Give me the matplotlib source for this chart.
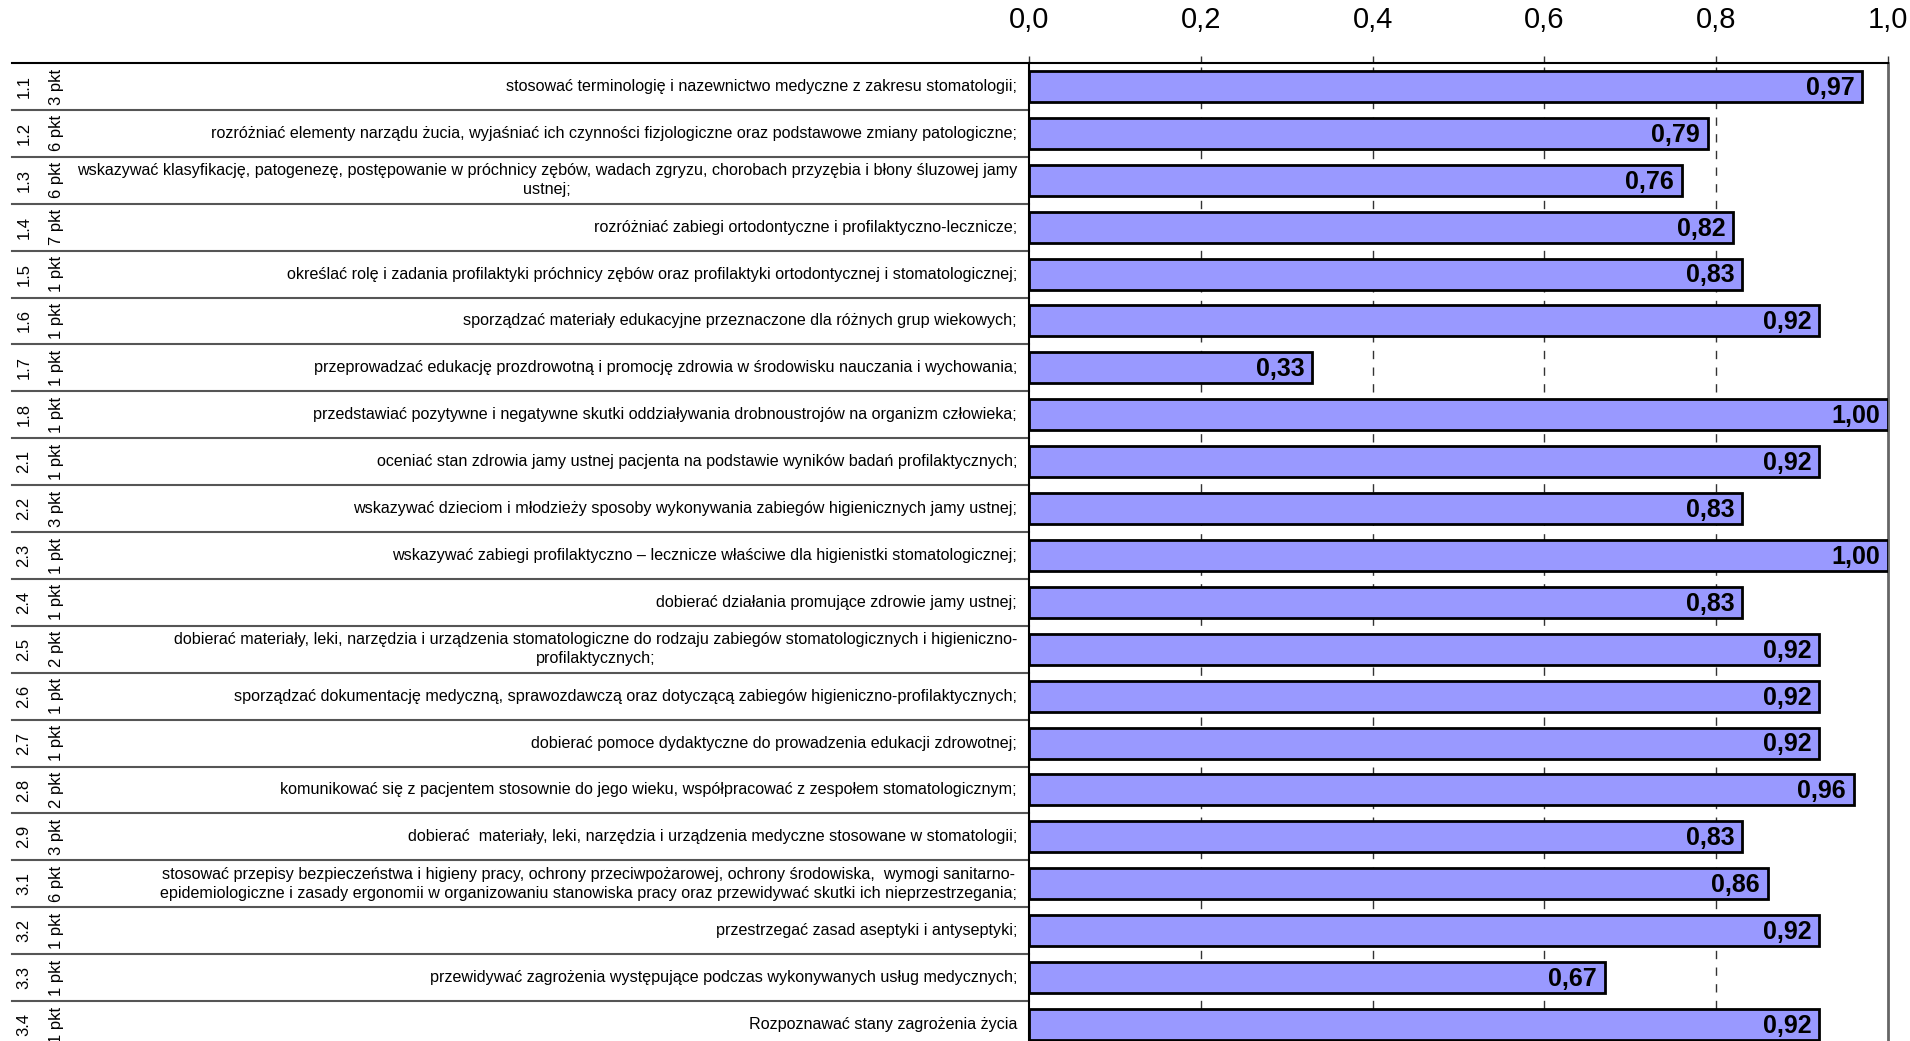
import matplotlib.pyplot as plt
from matplotlib import font_manager
from matplotlib.transforms import blended_transform_factory

# fonts: Arial-like
names = {f.name for f in font_manager.fontManager.ttflist}
narrow = 'Liberation Sans Narrow' if 'Liberation Sans Narrow' in names else 'Liberation Sans'
plt.rcParams['font.family'] = ['Liberation Sans', 'DejaVu Sans']

# dane
numery = ['1.1', '1.2', '1.3', '1.4', '1.5', '1.6', '1.7', '1.8',
          '2.1', '2.2', '2.3', '2.4', '2.5', '2.6', '2.7', '2.8', '2.9',
          '3.1', '3.2', '3.3', '3.4']
punkty = ['3 pkt', '6 pkt', '6 pkt', '7 pkt', '1 pkt', '1 pkt', '1 pkt', '1 pkt',
          '1 pkt', '3 pkt', '1 pkt', '1 pkt', '2 pkt', '1 pkt', '1 pkt', '2 pkt', '3 pkt',
          '6 pkt', '1 pkt', '1 pkt', '1 pkt']
opisy = [
    'stosować terminologię i nazewnictwo medyczne z zakresu stomatologii;',
    'rozróżniać elementy narządu żucia, wyjaśniać ich czynności fizjologiczne oraz podstawowe zmiany patologiczne;',
    'wskazywać klasyfikację, patogenezę, postępowanie w próchnicy zębów, wadach zgryzu, chorobach przyzębia i błony śluzowej jamy\nustnej;',
    'rozróżniać zabiegi ortodontyczne i profilaktyczno-lecznicze;',
    'określać rolę i zadania profilaktyki próchnicy zębów oraz profilaktyki ortodontycznej i stomatologicznej;',
    'sporządzać materiały edukacyjne przeznaczone dla różnych grup wiekowych;',
    'przeprowadzać edukację prozdrowotną i promocję zdrowia w środowisku nauczania i wychowania;',
    'przedstawiać pozytywne i negatywne skutki oddziaływania drobnoustrojów na organizm człowieka;',
    'oceniać stan zdrowia jamy ustnej pacjenta na podstawie wyników badań profilaktycznych;',
    'wskazywać dzieciom i młodzieży sposoby wykonywania zabiegów higienicznych jamy ustnej;',
    'wskazywać zabiegi profilaktyczno – lecznicze właściwe dla higienistki stomatologicznej;',
    'dobierać działania promujące zdrowie jamy ustnej;',
    'dobierać materiały, leki, narzędzia i urządzenia stomatologiczne do rodzaju zabiegów stomatologicznych i higieniczno-\nprofilaktycznych;',
    'sporządzać dokumentację medyczną, sprawozdawczą oraz dotyczącą zabiegów higieniczno-profilaktycznych;',
    'dobierać pomoce dydaktyczne do prowadzenia edukacji zdrowotnej;',
    'komunikować się z pacjentem stosownie do jego wieku, współpracować z zespołem stomatologicznym;',
    'dobierać  materiały, leki, narzędzia i urządzenia medyczne stosowane w stomatologii;',
    'stosować przepisy bezpieczeństwa i higieny pracy, ochrony przeciwpożarowej, ochrony środowiska,  wymogi sanitarno-\nepidemiologiczne i zasady ergonomii w organizowaniu stanowiska pracy oraz przewidywać skutki ich nieprzestrzegania;',
    'przestrzegać zasad aseptyki i antyseptyki;',
    'przewidywać zagrożenia występujące podczas wykonywanych usług medycznych;',
    'Rozpoznawać stany zagrożenia życia',
]
wartosci = [0.97, 0.79, 0.76, 0.82, 0.83, 0.92, 0.33, 1.00, 0.92, 0.83, 1.00,
            0.83, 0.92, 0.92, 0.92, 0.96, 0.83, 0.86, 0.92, 0.67, 0.92]

W, H = 1910, 1041
fig = plt.figure(figsize=(W / 100, H / 100), dpi=100)
x0, x1 = 1029, 1888
top = 63
row_h = 46.9
n = len(wartosci)
bottom = top + n * row_h
ax = fig.add_axes([x0 / W, 1 - bottom / H, (x1 - x0) / W, n * row_h / H])

y = list(range(n))
ax.barh(y, wartosci, height=0.66, color='#9999FF', edgecolor='black', linewidth=2, zorder=3)
ax.set_ylim(n - 0.5, -0.5)
ax.set_xlim(0, 1.0)

for i, v in enumerate(wartosci):
    ax.text(v - 0.009, i + 0.03, f'{v:.2f}'.replace('.', ','), ha='right', va='center',
            fontsize=18, fontweight='bold', zorder=4)

# siatka
for gx in [0.2, 0.4, 0.6, 0.8]:
    ax.axvline(gx, color='#333333', linewidth=1, linestyle=(0, (6, 6)), zorder=1)

ax.xaxis.tick_top()
ax.set_xticks([0, 0.2, 0.4, 0.6, 0.8, 1.0])
ax.set_xticklabels(['0,0', '0,2', '0,4', '0,6', '0,8', '1,0'], fontsize=21, family=narrow)
ax.tick_params(axis='x', direction='out', length=5, width=1, pad=16, color='#333333')
ax.set_yticks([])
ax.spines['top'].set_linewidth(1.5)
ax.spines['left'].set_linewidth(1.5)
ax.spines['bottom'].set_visible(False)
ax.spines['right'].set_color('#666666')
ax.spines['right'].set_linewidth(2)

# tabela po lewej
tr = blended_transform_factory(fig.transFigure, ax.transData)
left = 12 / W
ax.plot([left, x0 / W], [-0.5, -0.5], transform=tr, color='black', lw=1.5, clip_on=False)
for i in range(1, n + 1):
    ax.plot([left, x0 / W], [i - 0.5, i - 0.5], transform=tr, color='#555555', lw=1.5,
            clip_on=False)

for i in range(n):
    ax.text(24 / W, i, numery[i], transform=tr, rotation=90, ha='center', va='center',
            fontsize=12)
    ax.text(57 / W, i, punkty[i], transform=tr, rotation=90, ha='center', va='center',
            fontsize=12)
    ax.text(1017 / W, i, opisy[i], transform=tr, ha='right', va='center',
            multialignment='center', fontsize=11.6, linespacing=1.3)

fig.savefig('out.png', dpi=100)
